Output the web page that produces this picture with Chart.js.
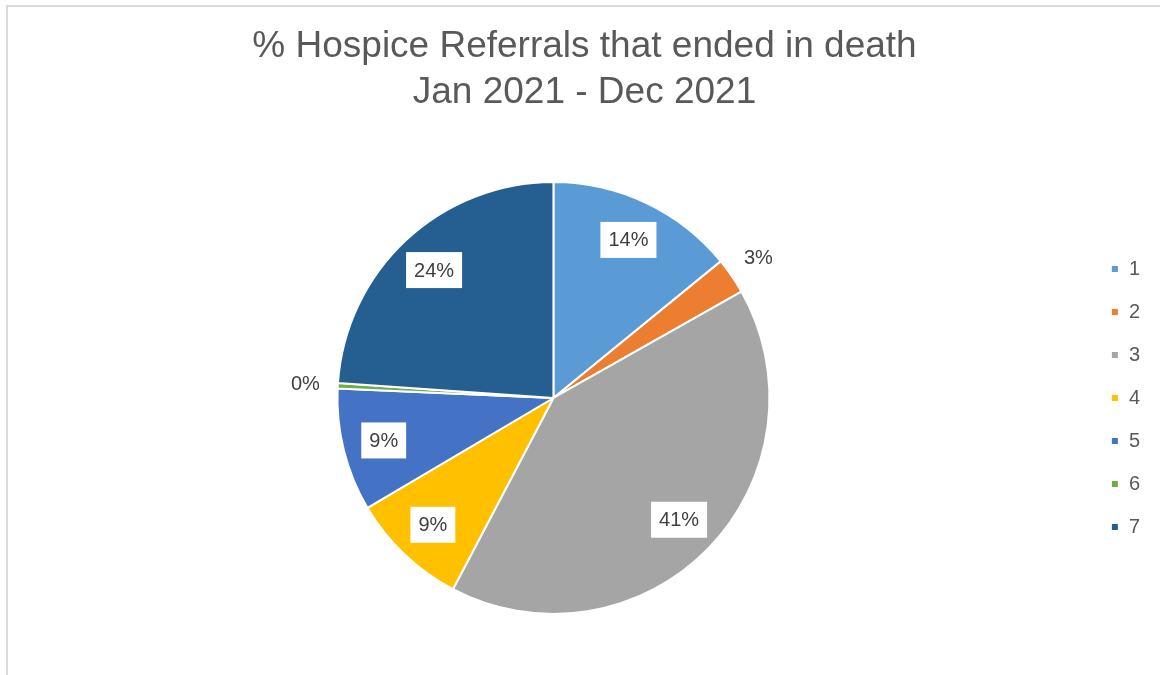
<!DOCTYPE html>
<html>
<head>
<meta charset="utf-8">
<script src="https://cdn.jsdelivr.net/npm/chart.js@4"></script>
<style>
  html, body { margin: 0; padding: 0; background: #fff; overflow: hidden; }
  #frame { position: absolute; left: 6px; top: 5px; width: 1200px; height: 720px; border: 2px solid #d9d9d9; }
  #wrap { position: absolute; left: 0; top: 0; width: 1160px; height: 675px; }
</style>
</head>
<body>
<div id="frame"></div>
<div id="wrap"><canvas id="pieCanvas" width="1160" height="675"></canvas></div>
<script>
// 데이터
var categories = ['1', '2', '3', '4', '5', '6', '7'];
var percentValues = [14.1, 2.7, 40.9, 8.8, 9.2, 0.4, 23.9];
var sliceColors = ['#5B9BD5', '#ED7D31', '#A5A5A5', '#FFC000', '#4472C4', '#70AD47', '#255E91'];
var titleLines = ['% Hospice Referrals that ended in death', 'Jan 2021 - Dec 2021'];

var FONT = "'Liberation Sans', Arial, sans-serif";

// 퍼센트 라벨 그리기 (작은 조각은 바깥쪽, 나머지는 흰 상자 안)
var pctLabels = {
    id: 'pctLabels',
    afterDatasetsDraw: function(chart) {
        var ctx = chart.ctx;
        var meta = chart.getDatasetMeta(0);
        ctx.save();
        ctx.font = '20px ' + FONT;
        ctx.textAlign = 'center';
        ctx.textBaseline = 'middle';
        meta.data.forEach(function(arc, i) {
            var v = percentValues[i];
            var txt = Math.round(v) + '%';
            var mid = (arc.startAngle + arc.endAngle) / 2;
            var inside = v >= 5;
            var r = arc.outerRadius * (inside ? 0.81 : 1.15);
            var x = arc.x + Math.cos(mid) * r;
            var y = arc.y + Math.sin(mid) * r;
            if (inside) {
                var w = ctx.measureText(txt).width + 16;
                ctx.fillStyle = '#ffffff';
                ctx.fillRect(x - w / 2, y - 18, w, 36);
            }
            ctx.fillStyle = '#404040';
            ctx.fillText(txt, x, y + 1);
        });
        ctx.restore();
    }
};

var ctx = document.getElementById('pieCanvas').getContext('2d');
new Chart(ctx, {
    type: 'pie',
    data: {
        labels: categories,
        datasets: [{
            data: percentValues,
            backgroundColor: sliceColors,
            borderColor: '#ffffff',
            borderWidth: 2
        }]
    },
    options: {
        responsive: false,
        animation: false,
        radius: 216,
        layout: { padding: { left: 19, right: 10, top: 14, bottom: 5 } },
        plugins: {
            title: {
                display: true,
                text: titleLines,
                color: '#595959',
                font: { family: FONT, size: 37, weight: 'normal', lineHeight: 1.243 },
                padding: { top: 10, bottom: 10 }
            },
            legend: {
                position: 'right',
                // 빈 제목으로 범례 항목을 아래로 내림
                title: {
                    display: true,
                    text: ' ',
                    font: { size: 10, lineHeight: 1.2 },
                    padding: { top: 100, bottom: 0 }
                },
                labels: {
                    boxWidth: 8,
                    boxHeight: 8,
                    padding: 23,
                    color: '#595959',
                    font: { family: FONT, size: 20 }
                }
            },
            tooltip: { enabled: false }
        }
    },
    plugins: [pctLabels]
});
</script>
</body>
</html>
